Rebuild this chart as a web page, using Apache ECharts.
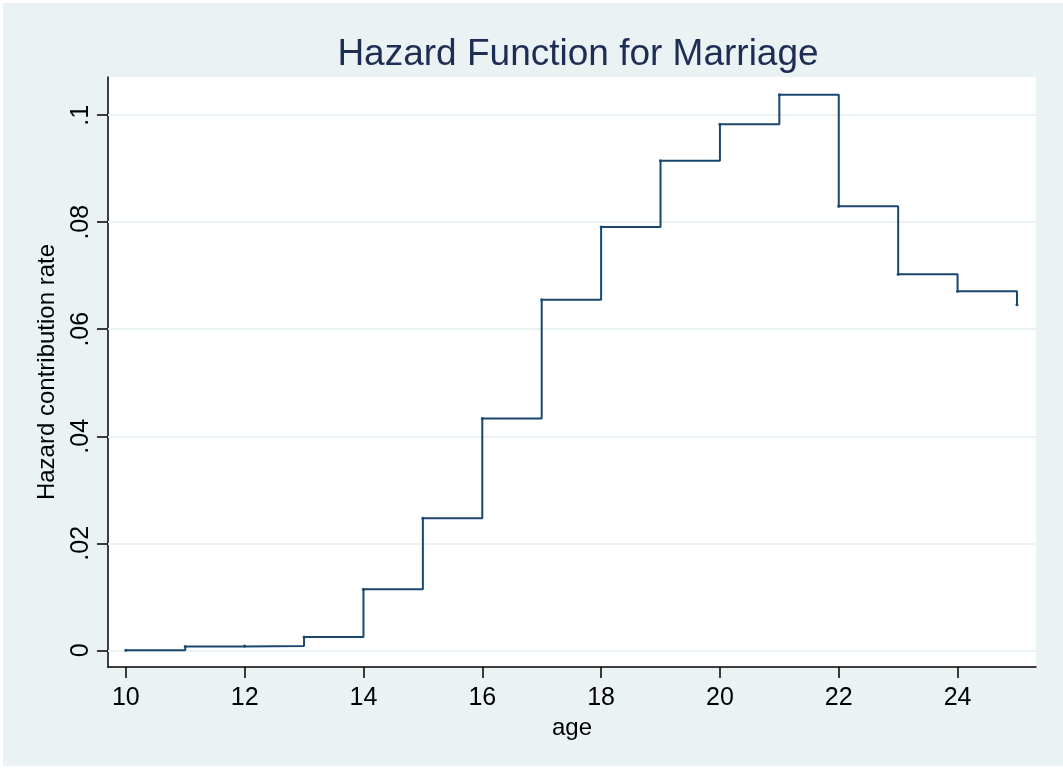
<!DOCTYPE html>
<html>
<head>
<meta charset="utf-8">
<script src="https://cdn.jsdelivr.net/npm/echarts@6/dist/echarts.min.js"></script>
<style>
html,body{margin:0;padding:0;background:#ffffff;}
#chart{width:1063px;height:776px;}
</style>
</head>
<body>
<div id="chart"></div>
<script>
var ages = [10, 11, 12, 13, 14, 15, 16, 17, 18, 19, 20, 21, 22, 23, 24, 25];
var hazard = [0.0000, 0.0007, 0.0008, 0.0025, 0.0114, 0.0247, 0.0433, 0.0655, 0.0791, 0.0915, 0.0983, 0.1038, 0.0830, 0.0703, 0.0671, 0.0646];
var xTicks = [10, 12, 14, 16, 18, 20, 22, 24];
var yTicks = [0, 0.02, 0.04, 0.06, 0.08, 0.1];
var yTickLabels = ['0', '.02', '.04', '.06', '.08', '.1'];
var titleText = 'Hazard Function for Marriage';
var xName = 'age';
var yName = 'Hazard contribution rate';

var chart = echarts.init(document.getElementById('chart'), null, {renderer: 'canvas'});
var font = '"Liberation Sans", Arial, Helvetica, sans-serif';
var data = ages.map(function (a, i) { return [a, hazard[i]]; });

chart.setOption({
  animation: false,
  backgroundColor: '#ffffff',
  graphic: [
    {type: 'rect', shape: {x: 3, y: 3, width: 1060, height: 763}, style: {fill: '#eaf2f3'}, z: -10, silent: true}
  ],
  title: {
    text: titleText,
    left: 573, top: 31, textAlign: 'center',
    textStyle: {fontFamily: font, fontSize: 37, fontWeight: 'normal', color: '#1e2d53'}
  },
  grid: {
    left: 108, right: 27, top: 77, bottom: 109,
    show: true, backgroundColor: '#ffffff', borderWidth: 0
  },
  xAxis: {
    type: 'value', min: 9.7, max: 25.32,
    name: xName, nameLocation: 'middle', nameGap: 46,
    nameTextStyle: {fontFamily: font, fontSize: 24, color: '#000000'},
    axisLine: {show: true, onZero: false, lineStyle: {color: '#000000', width: 1.5}},
    axisTick: {show: true, length: 11, lineStyle: {color: '#000000', width: 1.5},
      customValues: xTicks},
    axisLabel: {fontFamily: font, fontSize: 25, color: '#000000', margin: 19,
      customValues: xTicks, showMinLabel: true, showMaxLabel: true},
    splitLine: {show: false}
  },
  yAxis: {
    type: 'value', min: -0.00312, max: 0.10714,
    name: yName, nameLocation: 'middle', nameGap: 49, nameRotate: 90,
    nameTextStyle: {fontFamily: font, fontSize: 24, color: '#000000'},
    axisLine: {show: true, onZero: false, lineStyle: {color: '#000000', width: 1.5}},
    axisTick: {show: true, length: 11, lineStyle: {color: '#000000', width: 1.5},
      customValues: yTicks},
    axisLabel: {fontFamily: font, fontSize: 25, color: '#000000', margin: 14, rotate: 90,
      customValues: yTicks,
      formatter: function (v) {
        for (var i = 0; i < yTicks.length; i++) {
          if (Math.abs(v - yTicks[i]) < 1e-9) return yTickLabels[i];
        }
        return '';
      }},
    splitLine: {show: false}
  },
  series: [
    {
      type: 'line',
      markLine: {
        silent: true, symbol: 'none', label: {show: false},
        lineStyle: {color: '#eaf2f3', width: 2, type: 'solid'},
        data: yTicks.map(function (v) { return {yAxis: v}; }),
        z: 1
      },
      data: []
    },
    {
      type: 'line',
      step: 'end',
      data: data,
      symbol: 'circle', symbolSize: 3, showSymbol: true,
      itemStyle: {color: '#1a476f'},
      lineStyle: {color: '#1a476f', width: 2},
      z: 5
    }
  ]
});
</script>
</body>
</html>
